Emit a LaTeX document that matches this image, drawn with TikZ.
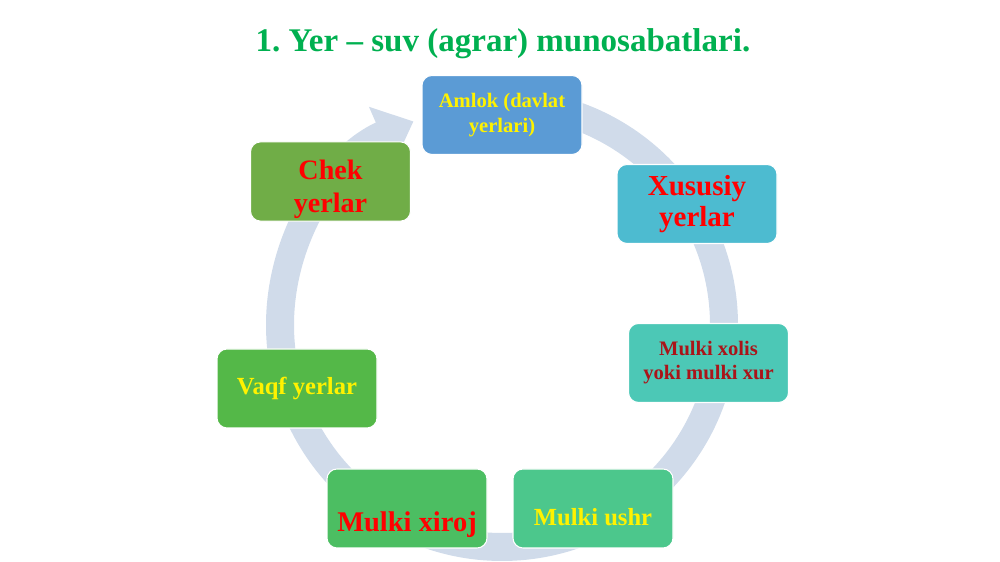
\documentclass[tikz,border=0pt]{standalone}
\usepackage{fontspec}
\setmainfont{Liberation Serif}
\usepackage{tikz}
\usetikzlibrary{arrows.meta}
\definecolor{titlegreen}{RGB}{0,176,80}
\definecolor{ringblue}{RGB}{208,219,234}
\definecolor{boxblue}{RGB}{91,155,213}
\definecolor{boxcyan}{RGB}{77,187,208}
\definecolor{boxteal}{RGB}{76,200,182}
\definecolor{boxmint}{RGB}{76,199,140}
\definecolor{boxgreen}{RGB}{76,190,98}
\definecolor{boxlime}{RGB}{84,184,72}
\definecolor{boxolive}{RGB}{112,173,71}
\definecolor{darkred}{RGB}{170,20,25}
\frenchspacing

\begin{document}
\begin{tikzpicture}
    \tikzstyle{land} = [rectangle, draw=white, line width=0.6pt, rounded corners=0.2cm, minimum width=3.2cm, minimum height=1.58cm, align=center]
    \tikzstyle{ring} = [draw=ringblue, line width=0.56cm, -{Triangle[length=0.7cm, width=1.2cm]}]
    \useasboundingbox (0,0) rectangle (20,11.24);

    % Title
    \node[anchor=base, text=titlegreen, font=\bfseries\fontsize{18.8}{22}\selectfont] (title) at (10.06,10.2) {1. Yer – suv (agrar) munosabatlari.};

    % Cycle
    \coordinate (hub) at (10.04,4.74);
    \draw[ring] ([shift={(90:4.44)}]hub) arc[start angle=90, end angle=-246.5, radius=4.44];

    % Land types
    \node[land, fill=boxblue, text=yellow, font=\bfseries\fontsize{11.7}{14.2}\selectfont] (amlok) at (10.04,8.94) {Amlok (davlat\\yerlari)};
    \node[land, fill=boxcyan, text=red, font=\bfseries\fontsize{16.5}{17.8}\selectfont] (xususiy) at (13.94,7.16) {Xususiy\\yerlar};
    \node[land, fill=boxteal, text=darkred, font=\bfseries\fontsize{11.7}{13.7}\selectfont] (xolis) at (14.17,3.98) {Mulki xolis\\yoki mulki xur};
    \node[land, fill=boxmint, text=yellow, font=\bfseries\fontsize{14}{16}\selectfont, text height=0.70cm, text depth=0pt] (ushr) at (11.86,1.07) {Mulki ushr};
    \node[land, fill=boxgreen, text=red, font=\bfseries\fontsize{16.2}{18}\selectfont, text height=0.94cm, text depth=0pt] (xiroj) at (8.14,1.07) {Mulki xiroj};
    \node[land, fill=boxlime, text=yellow, font=\bfseries\fontsize{14}{16}\selectfont] (vaqf) at (5.94,3.47) {Vaqf yerlar};
    \node[land, fill=boxolive, text=red, font=\bfseries\fontsize{16}{19}\selectfont, text height=1.3cm, text depth=0.05cm] (chek) at (6.61,7.61) {Chek\\yerlar};
\end{tikzpicture}
\end{document}
